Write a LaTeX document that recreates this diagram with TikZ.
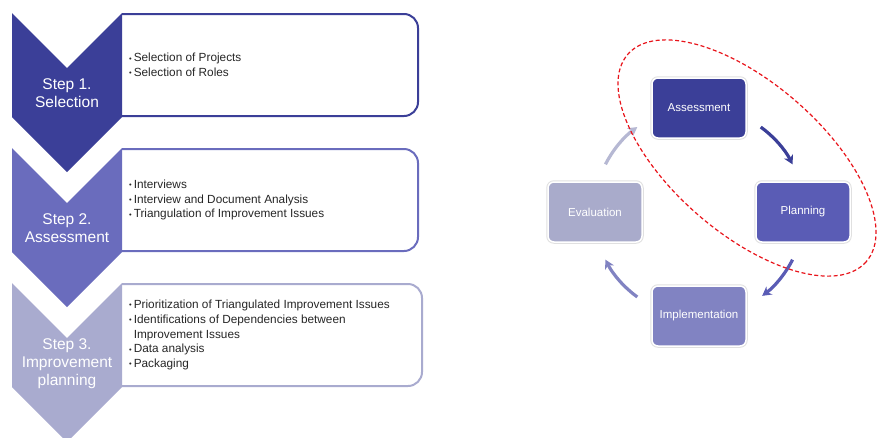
\documentclass[tikz,border=0pt]{standalone}
\usepackage{fontspec}
\setmainfont{Liberation Sans}
\usetikzlibrary{arrows.meta}

\definecolor{stepA}{HTML}{3B3F98}
\definecolor{stepB}{HTML}{6A6CBD}
\definecolor{stepC}{HTML}{A9ABCF}
\definecolor{cycA}{HTML}{3B3F98}
\definecolor{cycB}{HTML}{5A5CB5}
\definecolor{cycC}{HTML}{8183C2}
\definecolor{cycD}{HTML}{A9ABCB}
\definecolor{ringred}{HTML}{E8141B}

\newcommand{\bul}{\raisebox{0.12ex}{\fontsize{7.5}{7.5}\selectfont\textbullet}\,}

\begin{document}
\begin{tikzpicture}[x=1pt, y=-1pt] % pixel units, y runs down

        \tikzset{
            steplabel/.style={text=white, align=center, font=\fontsize{15.5}{18}\selectfont},
            itemlist/.style={anchor=west, inner sep=0pt, align=left, text=black!85, font=\fontsize{11.8}{14.8}\selectfont},
            phasebox/.style={fill=#1, draw=white, line width=1.5pt, rounded corners=6pt,
                minimum width=94pt, minimum height=60pt, text=white,
                font=\fontsize{11.5}{14}\selectfont, preaction={draw=black!12, line width=3.5pt}},
            cycarrow/.style={draw=#1, line width=3.2pt, -{Stealth[length=9pt, width=10pt]}}
        }
        \useasboundingbox (0,0) rectangle (877,437);

        % Chevrons with their boxes (top, colour, right edge of box)
        \foreach \t/\col/\r [count=\i] in {13/stepA/418, 148/stepB/418, 283/stepC/422} {
            \draw[\col, line width=2pt, rounded corners=14pt] (122,\t+1) -- (\r,\t+1) -- (\r,\t+103) -- (122,\t+103);
            \fill[\col] (12,\t) -- (67,\t+55) -- (122,\t) -- (122,\t+104) -- (67,\t+159) -- (12,\t+104) -- cycle;
        }

        % Step labels
        \node[steplabel] (step1) at (67,93) {Step 1.\\Selection};
        \node[steplabel] (step2) at (67,228) {Step 2.\\Assessment};
        \node[steplabel] (step3) at (67,364) {Step 3.\\Improvement\\planning};

        % Activities of each step
        \node[itemlist] (items1) at (129,65) {\bul Selection of Projects\\\bul Selection of Roles};
        \node[itemlist] (items2) at (129,200) {\bul Interviews\\\bul Interview and Document Analysis\\\bul Triangulation of Improvement Issues};
        \node[itemlist] (items3) at (129,335) {\bul Prioritization of Triangulated Improvement Issues\\\bul Identifications of Dependencies between\\\hphantom{\bul}Improvement Issues\\\bul Data analysis\\\bul Packaging};

        % Improvement cycle
        \node[phasebox=cycA] (assess) at (699,108) {Assessment};
        \node[phasebox=cycB] (plan) at (803,212) {Planning};
        \node[phasebox=cycC] (impl) at (699,316) {Implementation};
        \node[phasebox=cycD] (eval) at (595,212) {Evaluation};
        \coordinate (hub) at (assess |- plan);

        \draw[cycarrow=cycA] ([shift={(-54:105)}]hub) arc[start angle=-54, end angle=-27, radius=105];
        \draw[cycarrow=cycB] ([shift={(27:105)}]hub) arc[start angle=27, end angle=53, radius=105];
        \draw[cycarrow=cycC] ([shift={(126:105)}]hub) arc[start angle=126, end angle=153, radius=105];
        \draw[cycarrow=cycD!85] ([shift={(-153:105)}]hub) arc[start angle=-153, end angle=-126, radius=105];

        % Focus of the study
        \draw[ringred, line width=1.2pt, dash pattern=on 4pt off 2.5pt, rotate around={-41:(747,158)}]
            (747,158) ellipse [x radius=158, y radius=75];

    \end{tikzpicture}
\end{document}
